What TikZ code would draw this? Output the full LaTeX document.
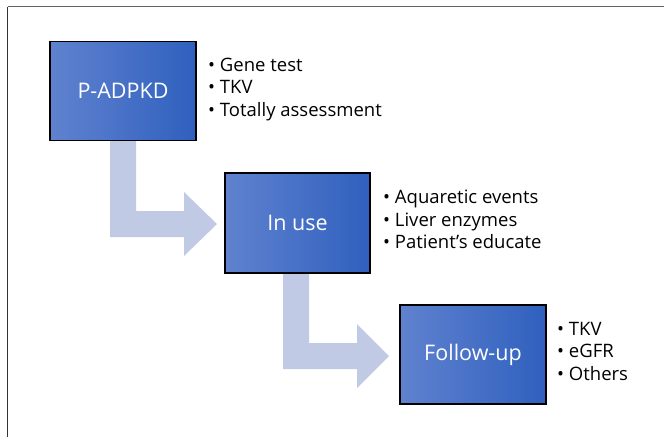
\documentclass[tikz,border=0pt]{standalone}
\usepackage{fontspec}
\setmainfont{Open Sans}
\usetikzlibrary{calc}
\definecolor{boxL}{RGB}{96,130,207}
\definecolor{boxR}{RGB}{47,96,190}
\definecolor{arrowc}{RGB}{193,202,228}
\definecolor{framec}{RGB}{100,100,100}
\tikzset{
  stagebox/.style={draw=black, line width=1.5pt, left color=boxL, right color=boxR,
    minimum width=146pt, minimum height=99pt, inner sep=0pt,
    text=white, font=\fontsize{21.5}{24}\selectfont},
  bullets/.style={anchor=west, align=left, inner sep=0pt, text=black,
    font=\fontsize{18.5}{22.5}\selectfont},
  bigarrow/.style={fill=arrowc, draw=none}
}
\begin{document}
\begin{tikzpicture}[x=1pt,y=-1pt]
\useasboundingbox (0,0) rectangle (664,437);
\fill[white] (0,0) rectangle (664,437);
\draw[framec, line width=1.5pt] (664,6.5) -- (7.5,6.5);
\draw[black!80, line width=1.5pt] (7.5,6.5) -- (7.5,437);

\coordinate (b1) at (123,91);
\coordinate (b2) at (297.5,223);
\coordinate (b3) at (473,354.5);

% arrows (drawn first, under the boxes)
\fill[bigarrow] ($(b1)+(-13,49)$) -- ($(b1)+(13,49)$) -- ($(b1)+(13,120)$) -- ($(b1)+(61,120)$)
  -- ($(b1)+(61,101)$) -- ($(b1)+(94,133)$) -- ($(b1)+(61,165)$) -- ($(b1)+(61,146)$)
  -- ($(b1)+(-13,146)$) -- cycle;
\fill[bigarrow] ($(b2)+(-14.5,50)$) -- ($(b2)+(11.5,50)$) -- ($(b2)+(11.5,120)$) -- ($(b2)+(59.5,120)$)
  -- ($(b2)+(59.5,101)$) -- ($(b2)+(91.5,133)$) -- ($(b2)+(59.5,165)$) -- ($(b2)+(59.5,146)$)
  -- ($(b2)+(-14.5,146)$) -- cycle;

\node[stagebox] (s1) at (b1) {P-ADPKD};
\node[stagebox, minimum width=145pt, minimum height=100pt] (s2) at (b2) {In use};
\node[stagebox] (s3) at (b3) {Follow-up};

\node[bullets] (l1) at (208,89.5) {• Gene test\\• TKV\\• Totally assessment};
\node[bullets] (l2) at (383,219.5) {• Aquaretic events\\• Liver enzymes\\• Patient’s educate};
\node[bullets] (l3) at (557,351) {• TKV\\• eGFR\\• Others};
\end{tikzpicture}
\end{document}
